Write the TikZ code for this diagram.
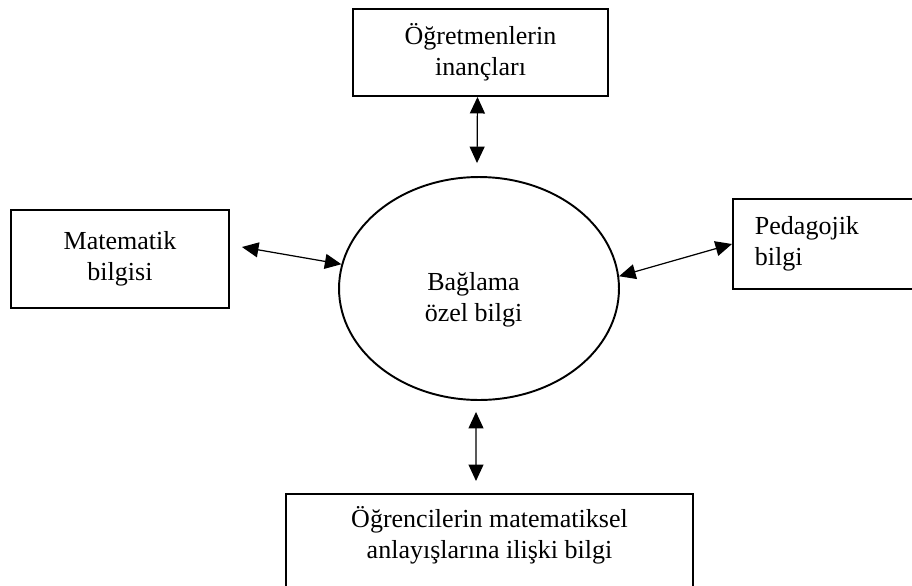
\documentclass[tikz,border=0pt]{standalone}
\usepackage{fontspec}
\setmainfont{Liberation Serif}
\usetikzlibrary{shapes.geometric,arrows.meta}
\tikzstyle{kutu} = [draw, line width=1.1pt, align=center, font=\fontsize{14.8}{17.6}\selectfont]
\tikzstyle{yazi} = [align=center, font=\fontsize{14.8}{17.6}\selectfont]
\tikzstyle{ok} = [<->, >={Triangle[length=0.33cm,width=0.3cm]}, line width=0.7pt]

\begin{document}
\begin{tikzpicture}[x=0.02cm, y=-0.02cm]
			\clip (0,0) rectangle (912,585);
			\node[draw, ellipse, line width=1.1pt, minimum width=5.6cm, minimum height=4.46cm] (ozel) at (479,288.5) {};
			\node[yazi] (ozelyazi) at (473.5,300) {Bağlama\\özel bilgi};
			\node[kutu, minimum width=5.1cm, minimum height=1.74cm] (inanc) at (480.5,52.5) {Öğretmenlerin\\inançları};
			\node[kutu, minimum width=4.36cm, minimum height=1.96cm] (matbil) at (120,259) {Matematik\\bilgisi};
			\node[kutu, anchor=west, align=left, text width=3.8cm, inner xsep=0.44cm, minimum height=1.8cm] (ped) at (732,244) {Pedagojik\\bilgi};
			\node[kutu, anchor=north, minimum width=8.14cm, minimum height=2.4cm] (ogrenci) at (489.5,493) {};
			\node[yazi] (ogrenciyazi) at (489.5,535.5) {Öğrencilerin matematiksel\\anlayışlarına ilişki bilgi};
			\draw[ok] ([xshift=-0.06cm]inanc.south) -- ([xshift=-0.04cm,yshift=0.26cm]ozel.north);
			\draw[ok] ([xshift=0.24cm,yshift=0.24cm]matbil.east) -- (ozel.170);
			\draw[ok] (ozel.5) -- (ped.west);
			\draw[ok] ([xshift=-0.06cm,yshift=-0.22cm]ozel.south) -- ([xshift=-0.27cm,yshift=0.24cm]ogrenci.north);
		\end{tikzpicture}
\end{document}
